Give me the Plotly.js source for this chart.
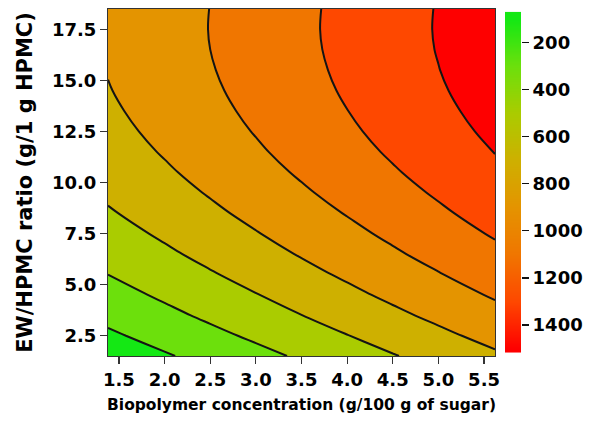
<!DOCTYPE html>
<html>
<head>
<meta charset="utf-8">
<script src="https://cdn.plot.ly/plotly-3.0.1.min.js"></script>
<style>html,body{margin:0;padding:0;background:#fff;}#chart{width:589px;height:422px;}</style>
</head>
<body>
<div id="chart"></div>
<script>
// Biopolymer concentration (g/100 g of sugar)
var concentration = [1.38, 2.0, 2.5, 3.0, 3.5, 4.0, 4.5, 5.0, 5.62];
// EW/HPMC ratio (g/1 g HPMC)
var ratio = [1.51, 2.5, 3.5, 4.5, 5.5, 6.5, 7.5, 8.5, 9.5, 10.5, 11.5, 12.5, 13.5, 14.5, 15.5, 16.5, 17.5, 18.49];
// response values (rows = ratio, columns = concentration)
var response = [
  [80, 181, 263, 344, 426, 507, 589, 670, 771],
  [168, 269, 351, 432, 514, 595, 677, 758, 859],
  [252, 353, 435, 516, 598, 679, 761, 842, 943],
  [329, 430, 512, 593, 675, 756, 838, 919, 1020],
  [401, 502, 584, 665, 747, 828, 910, 991, 1092],
  [467, 568, 650, 731, 813, 894, 976, 1057, 1158],
  [527, 628, 710, 791, 873, 954, 1036, 1117, 1218],
  [582, 683, 765, 846, 928, 1009, 1091, 1172, 1273],
  [631, 732, 814, 895, 977, 1058, 1140, 1221, 1322],
  [675, 776, 858, 939, 1021, 1102, 1184, 1265, 1366],
  [713, 814, 896, 977, 1059, 1140, 1222, 1303, 1404],
  [745, 846, 928, 1009, 1091, 1172, 1254, 1335, 1436],
  [771, 872, 954, 1035, 1117, 1198, 1280, 1361, 1462],
  [792, 893, 975, 1056, 1138, 1219, 1301, 1382, 1483],
  [807, 908, 990, 1071, 1153, 1234, 1316, 1397, 1498],
  [817, 918, 1000, 1081, 1163, 1244, 1326, 1407, 1508],
  [821, 922, 1004, 1085, 1167, 1248, 1330, 1411, 1512],
  [819, 920, 1002, 1083, 1165, 1246, 1328, 1409, 1510]
];
// contour levels
var levelStart = 200, levelEnd = 1400, levelStep = 200;
// colour bar
var colorbarValues = [50, 100, 150, 200, 250, 300, 350, 400, 450, 500, 550, 600, 650, 700, 750, 800, 850, 900, 950, 1000, 1050, 1100, 1150, 1200, 1250, 1300, 1350, 1400, 1450, 1500, 1550];
var colorbarTicks = [200, 400, 600, 800, 1000, 1200, 1400];
var colorbarRange = [70, 1518];

var colorscale = [
  [0, 'rgb(20,232,20)'],
  [1/7, 'rgb(108,224,12)'],
  [2/7, 'rgb(170,204,0)'],
  [3/7, 'rgb(206,176,0)'],
  [4/7, 'rgb(228,148,0)'],
  [5/7, 'rgb(240,118,0)'],
  [6/7, 'rgb(254,72,0)'],
  [1, 'rgb(254,0,0)']
];

var FONT = 'DejaVu Sans, Arial, sans-serif';

var contour = {
  type: 'contour',
  x: concentration,
  y: ratio,
  z: response,
  autocontour: false,
  contours: {start: levelStart, end: levelEnd, size: levelStep, coloring: 'fill'},
  colorscale: colorscale,
  line: {color: '#141414', width: 2, smoothing: 1},
  showscale: false,
  hoverinfo: 'x+y+z'
};

var cbar = {
  type: 'heatmap',
  x: [0],
  y: colorbarValues,
  z: colorbarValues.map(function (v) { return [v]; }),
  xaxis: 'x2',
  yaxis: 'y2',
  colorscale: colorscale,
  zmin: 100,
  zmax: 1500,
  zsmooth: 'best',
  showscale: false,
  hoverinfo: 'skip'
};

var tickFont = {family: FONT, size: 18, color: '#000', weight: 'bold'};

var layout = {
  width: 589,
  height: 422,
  margin: {l: 108, r: 68, t: 9, b: 66},
  paper_bgcolor: '#fff',
  plot_bgcolor: '#fff',
  showlegend: false,
  xaxis: {
    domain: [0, 387 / 413],
    range: [1.38, 5.62],
    tickvals: [1.5, 2.0, 2.5, 3.0, 3.5, 4.0, 4.5, 5.0, 5.5],
    tickformat: '.1f',
    ticks: 'outside', ticklen: 7, tickwidth: 1.2, tickcolor: '#333',
    showline: true, linecolor: '#333', linewidth: 1, mirror: true,
    showgrid: false, zeroline: false,
    tickfont: tickFont,
    title: {text: 'Biopolymer concentration (g/100 g of sugar)', font: {family: FONT, size: 15.5, color: '#000', weight: 'bold'}, standoff: 10}
  },
  yaxis: {
    range: [1.51, 18.49],
    tickvals: [2.5, 5.0, 7.5, 10.0, 12.5, 15.0, 17.5],
    tickformat: '.1f',
    ticks: 'outside', ticklen: 7, tickwidth: 1.2, tickcolor: '#333',
    showline: true, linecolor: '#333', linewidth: 1, mirror: true,
    showgrid: false, zeroline: false,
    tickfont: tickFont,
    title: {text: 'EW/HPMC ratio (g/1 g HPMC)', font: {family: FONT, size: 21, color: '#000', weight: 'bold'}, standoff: 13}
  },
  xaxis2: {
    domain: [397 / 413, 1],
    anchor: 'y2',
    range: [-0.5, 0.5],
    showticklabels: false, ticks: '', showgrid: false, zeroline: false, showline: false
  },
  yaxis2: {
    domain: [3.3 / 347, 344.3 / 347],
    anchor: 'x2',
    side: 'right',
    range: [colorbarRange[1], colorbarRange[0]],
    tickvals: colorbarTicks,
    ticks: 'outside', ticklen: 7, tickwidth: 1.4, tickcolor: '#111',
    showgrid: false, zeroline: false, showline: false,
    tickfont: tickFont
  }
};

Plotly.newPlot('chart', [contour, cbar], layout, {displayModeBar: false, staticPlot: true});
</script>
</body>
</html>
